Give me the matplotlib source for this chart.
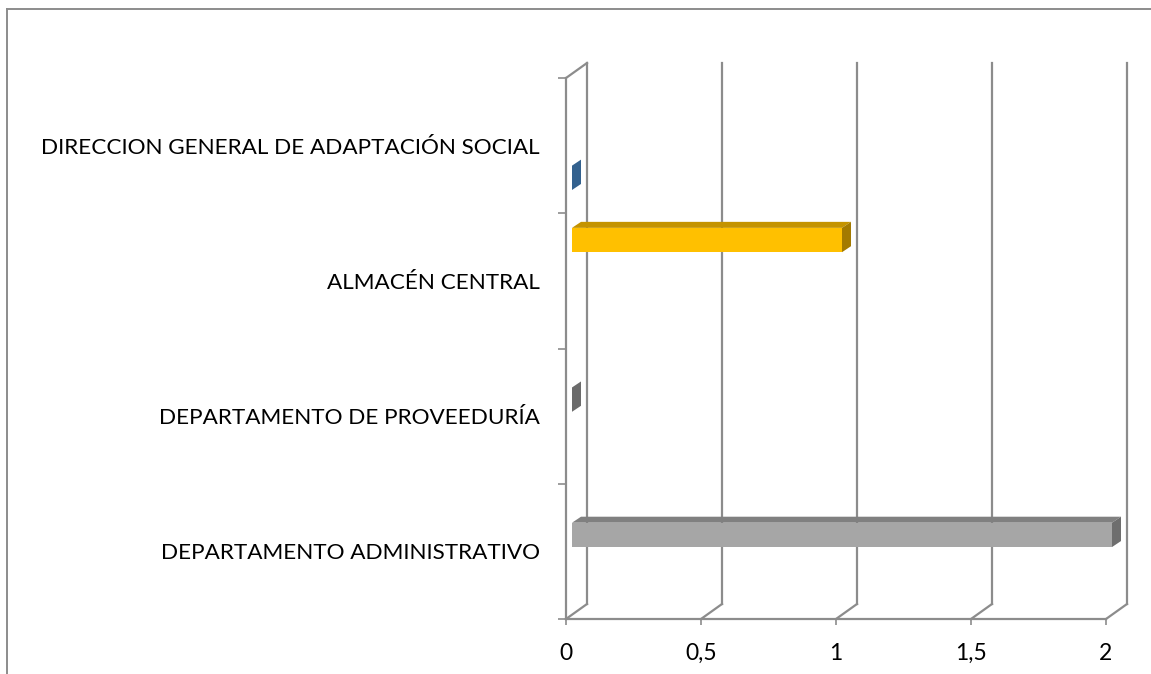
import matplotlib.pyplot as plt
from matplotlib.patches import Polygon
from matplotlib.lines import Line2D

# Data (bottom category first)
categories = ["DEPARTAMENTO ADMINISTRATIVO", "DEPARTAMENTO DE PROVEEDURÍA",
              "ALMACÉN CENTRAL", "DIRECCION GENERAL DE ADAPTACIÓN SOCIAL"]
values = [2, 0, 1, 0]
front_colors = ["#a6a6a6", "#7f7f7f", "#ffc000", "#4f81bd"]
top_colors = ["#808080", "#666666", "#c49300", "#3b6591"]
side_colors = ["#6e6e6e", "#6b6b6b", "#a37a00", "#33618e"]
x_ticks = [0, 0.5, 1, 1.5, 2]
x_tick_labels = ["0", "0,5", "1", "1,5", "2"]

plt.rcParams['font.family'] = ['Lato', 'DejaVu Sans']

W, H = 1151, 674
fig = plt.figure(figsize=(W / 100, H / 100), dpi=100)
ax = fig.add_axes([566 / W, (H - 619) / H, 540 / W, 541 / H])
ax.set_xlim(0, 2)
ax.set_ylim(0, 4)
for s in ax.spines.values():
    s.set_visible(False)

grid_c = "#8c8c8c"
lw = 1.6
# 3d depth of the walls, in data units
DX = 21 / 270
DY = 15 / 135.25

# back wall gridlines and floor lines
for t in x_ticks:
    ax.plot([t + DX, t + DX], [DY, 4 + DY], color=grid_c, lw=lw, clip_on=False, zorder=1)
    ax.plot([t, t + DX], [0, DY], color=grid_c, lw=lw, clip_on=False, zorder=1)
ax.plot([0, 2], [0, 0], color=grid_c, lw=lw, clip_on=False, zorder=1)
ax.plot([0, 0], [0, 4], color=grid_c, lw=lw, clip_on=False, zorder=1)
ax.plot([0, DX], [4, 4 + DY], color=grid_c, lw=lw, clip_on=False, zorder=1)

# bars: front face with barh, top and side faces as polygons
slot = [2, 2, 3, 0]
h = 0.18
BX = 6 / 270
bdx = 9 / 270
bdy = 6 / 135.25
bar_y = [k + 0.172 + s * h for k, s in enumerate(slot)]
bars = ax.barh(bar_y, values, height=h, left=BX, align='edge', color=front_colors,
               linewidth=0, zorder=3)
for b in bars:
    b.set_clip_on(False)
for y, v, tc, sc in zip(bar_y, values, top_colors, side_colors):
    x1 = BX + v
    if v > 0:
        ax.add_patch(Polygon([(BX, y + h), (x1, y + h), (x1 + bdx, y + h + bdy),
                              (BX + bdx, y + h + bdy)], closed=True, facecolor=tc,
                             edgecolor='none', zorder=3, clip_on=False))
    ax.add_patch(Polygon([(x1, y), (x1 + bdx, y + bdy), (x1 + bdx, y + h + bdy),
                          (x1, y + h)], closed=True, facecolor=sc,
                         edgecolor='none', zorder=3, clip_on=False))

# ticks
ax.set_xticks(x_ticks)
ax.set_xticklabels(x_tick_labels)
ax.tick_params(axis='x', length=4.5, width=1.2, color=grid_c, pad=13,
               labelsize=16.5, labelcolor='black')
ax.set_yticks([k + 0.5 for k in range(len(categories))])
ax.set_yticklabels(categories)
ax.set_yticks(range(len(categories) + 1), minor=True)
ax.tick_params(axis='y', which='major', length=0, pad=19, labelsize=16.2,
               labelcolor='black')
ax.tick_params(axis='y', which='minor', length=5.5, width=1.2, color=grid_c)

# chart area border
fig.add_artist(Line2D([7 / W, 1], [1 - 9 / H, 1 - 9 / H], transform=fig.transFigure,
                      color="#8c8c8c", lw=1.4))
fig.add_artist(Line2D([7 / W, 7 / W], [0, 1 - 9 / H], transform=fig.transFigure,
                      color="#8c8c8c", lw=1.4))

fig.savefig("out.png", dpi=100)
